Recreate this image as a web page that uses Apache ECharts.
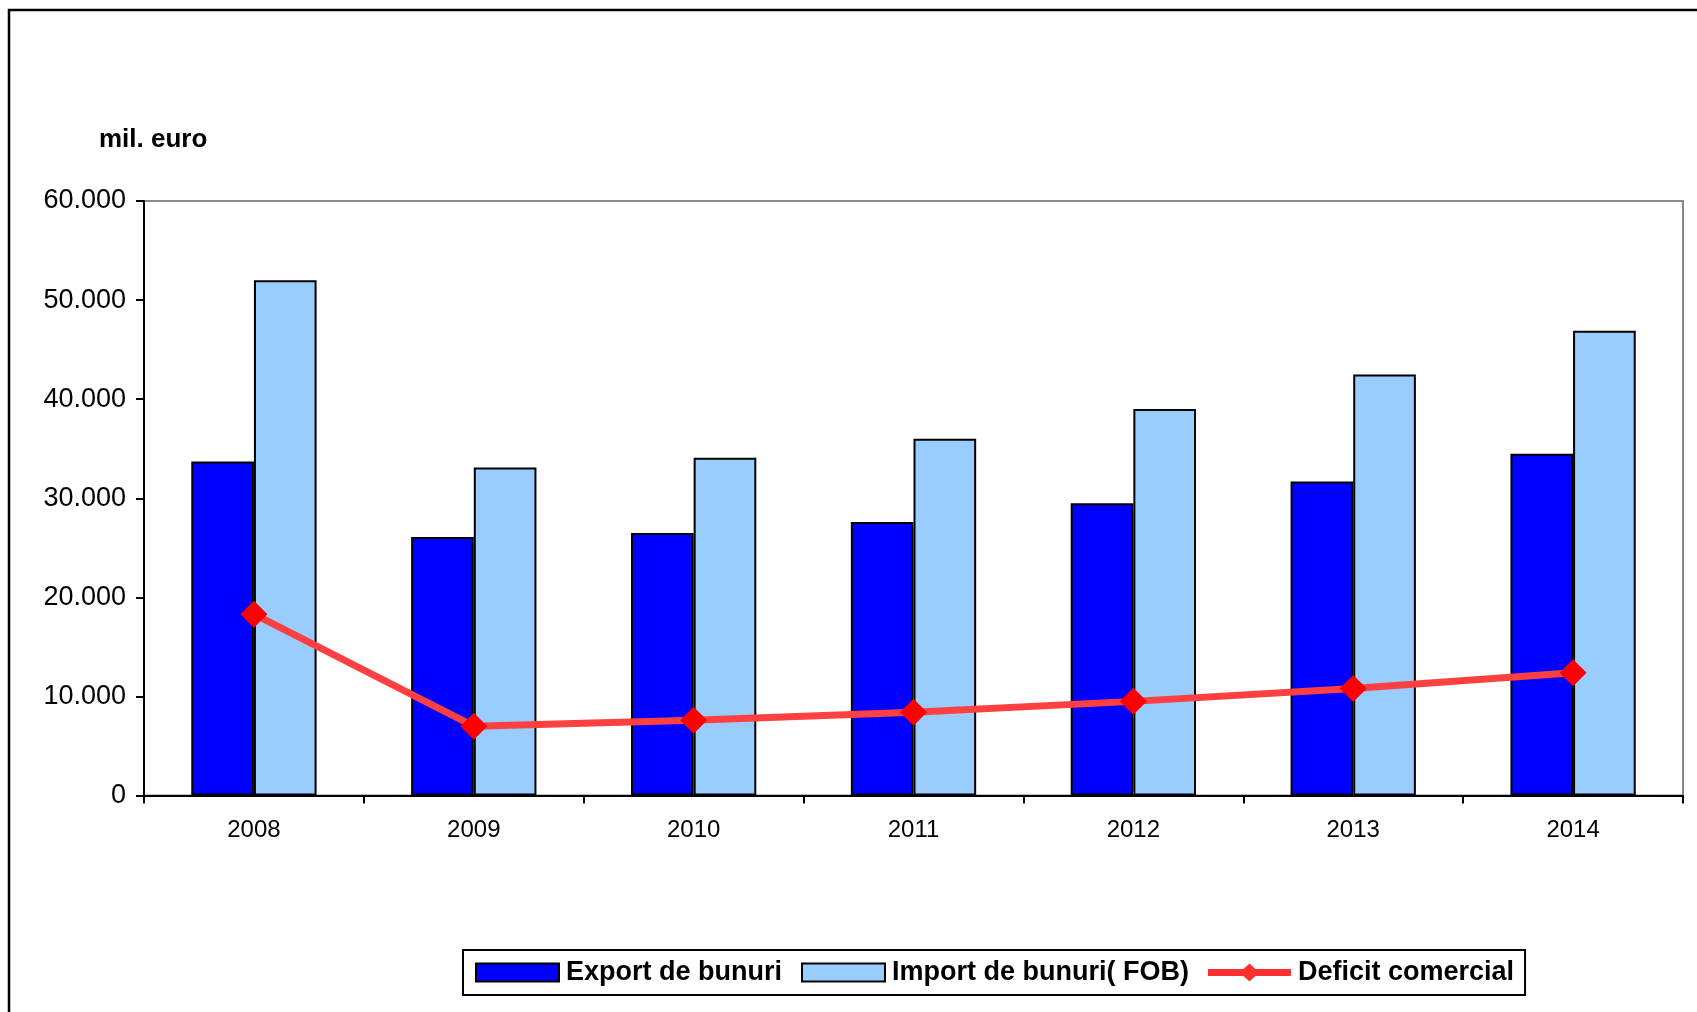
<!DOCTYPE html>
<html>
<head>
<meta charset="utf-8">
<script src="https://cdn.jsdelivr.net/npm/echarts@6/dist/echarts.min.js"></script>
<style>
html,body{margin:0;padding:0;background:#fff;}
#c{width:1697px;height:1012px;}
</style>
</head>
<body>
<div id="c"></div>
<script>
const years = ['2008','2009','2010','2011','2012','2013','2014'];
const exportVals = [33700, 26100, 26500, 27600, 29500, 31700, 34500];
const importVals = [52000, 33100, 34100, 36000, 39000, 42500, 46900];
const deficitVals = [18300, 7000, 7600, 8400, 9500, 10800, 12400];
const seriesNames = ['Export de bunuri', 'Import de bunuri( FOB)', 'Deficit comercial'];
const unitLabel = 'mil. euro';

const chart = echarts.init(document.getElementById('c'), null, {renderer: 'canvas'});
const fmt = v => {
  const s = String(Math.round(v));
  return s.replace(/\B(?=(\d{3})+(?!\d))/g, '.');
};
const font = '"Liberation Sans", Arial, sans-serif';
const lineIcon = 'path://M0,5.5 L35.5,5.5 L41.5,0 L47.5,5.5 L83,5.5 L83,12.5 L47.5,12.5 L41.5,18 L35.5,12.5 L0,12.5 Z';

chart.setOption({
  animation: false,
  backgroundColor: '#fff',
  textStyle: {fontFamily: font},
  graphic: [
    {type: 'rect', shape: {x: 9, y: 10, width: 1760, height: 1100},
     style: {fill: 'none', stroke: '#000', lineWidth: 2.5}, silent: true},
    {type: 'text', left: 99, top: 127,
     style: {text: unitLabel, font: 'bold 26px ' + font, fill: '#000'}}
  ],
  grid: {left: 144, top: 201, right: 14, bottom: 216.5, show: true,
         borderColor: '#888', borderWidth: 2, backgroundColor: 'transparent'},
  legend: {
    left: 463, top: 950,
    padding: [9, 11, 9, 12],
    itemGap: 19,
    itemWidth: 83, itemHeight: 18,
    borderColor: '#000', borderWidth: 2,
    backgroundColor: '#fff',
    textStyle: {fontSize: 27, fontWeight: 'bold', color: '#000', fontFamily: font, padding: [0,0,0,2]},
    data: [
      {name: seriesNames[0], icon: 'rect'},
      {name: seriesNames[1], icon: 'rect'},
      {name: seriesNames[2], icon: lineIcon, itemStyle: {color: '#FF3030', borderWidth: 0}}
    ]
  },
  xAxis: {
    type: 'category',
    data: years,
    boundaryGap: true,
    axisLine: {lineStyle: {color: '#000', width: 2}},
    axisTick: {show: true, inside: false, length: 8, lineStyle: {color: '#000', width: 2}},
    axisLabel: {color: '#000', fontSize: 24, margin: 23, fontFamily: font},
    splitLine: {show: false}
  },
  yAxis: {
    type: 'value',
    min: 0, max: 60000, interval: 10000,
    axisLine: {show: true, lineStyle: {color: '#000', width: 2}},
    axisTick: {show: true, inside: false, length: 8, lineStyle: {color: '#000', width: 2}},
    axisLabel: {color: '#000', fontSize: 27, margin: 18, fontFamily: font, formatter: fmt},
    splitLine: {show: false}
  },
  series: [
    {
      name: seriesNames[0], type: 'bar', data: exportVals,
      barGap: '0%', barCategoryGap: '43%',
      itemStyle: {color: '#0000FF', borderColor: '#000', borderWidth: 2}
    },
    {
      name: seriesNames[1], type: 'bar', data: importVals,
      barGap: '0%', barCategoryGap: '43%',
      itemStyle: {color: '#99CCFF', borderColor: '#000', borderWidth: 2}
    },
    {
      name: seriesNames[2], type: 'line', data: deficitVals,
      z: 5,
      symbol: 'diamond', symbolSize: 27,
      lineStyle: {color: '#FF4040', width: 7},
      itemStyle: {color: '#FF0000'}
    }
  ]
});
</script>
</body>
</html>
